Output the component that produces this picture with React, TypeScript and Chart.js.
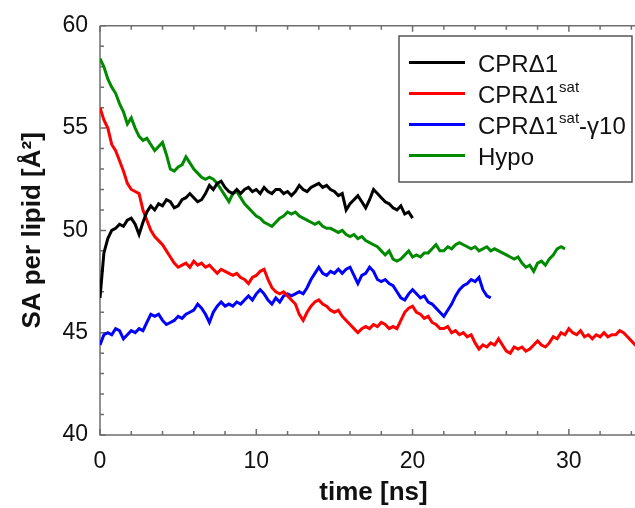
import { useEffect, useRef } from "react";
import { Chart, registerables } from "chart.js";

Chart.register(...registerables);

// sampling interval of the traces (ns)
const TIME_STEP = 0.25;

const seriesNames = ["CPRΔ1", "CPRΔ1sat", "CPRΔ1sat-γ10", "Hypo"];
const seriesColors = ["#000000", "#ff0000", "#0000ff", "#008a00"];

const xTickLabels = [0, 10, 20, 30];
const yTickLabels = [40, 45, 50, 55, 60];

// SA per lipid [Å²], one value every TIME_STEP ns starting at t = 0
const cprD1 = [
  46.7, 48.9, 49.6, 50.0, 50.1, 50.3, 50.2, 50.5,
  50.6, 50.3, 49.8, 50.4, 50.9, 51.2, 51.0, 51.3,
  51.2, 51.5, 51.4, 51.1, 51.2, 51.5, 51.6, 51.8,
  51.6, 51.4, 51.5, 51.8, 52.2, 52.0, 52.3, 52.4,
  52.1, 51.9, 51.8, 52.0, 51.8, 52.0, 52.1, 51.9,
  52.0, 51.8, 52.1, 51.9, 51.8, 52.0, 52.0, 51.8,
  51.9, 51.7, 51.9, 52.2, 52.0, 51.9, 52.1, 52.2,
  52.3, 52.1, 52.2, 52.0, 51.9, 51.7, 51.8, 51.0,
  51.3, 51.5, 51.7, 51.4, 51.1, 51.5, 52.0, 51.8,
  51.6, 51.4, 51.3, 51.1, 51.0, 51.2, 50.8, 50.9,
  50.6,
];

const cprD1sat = [
  56.0, 55.4, 55.0, 54.2, 53.9, 53.4, 52.9, 52.3,
  52.0, 51.9, 51.8, 51.0, 50.5, 50.0, 49.7, 49.5,
  49.3, 49.0, 48.7, 48.4, 48.2, 48.3, 48.4, 48.2,
  48.5, 48.3, 48.4, 48.2, 48.3, 48.1, 47.9, 48.1,
  48.0, 47.9, 47.8, 47.9, 47.7, 47.6, 47.4, 47.7,
  47.8, 48.0, 48.1, 47.6, 47.2, 47.0, 46.9, 47.0,
  46.8, 46.6, 46.4, 45.9, 45.6, 46.0, 46.3, 46.5,
  46.6, 46.4, 46.3, 46.1, 46.0, 46.1, 45.8, 45.6,
  45.4, 45.2, 45.0, 45.2, 45.3, 45.2, 45.4, 45.3,
  45.5, 45.4, 45.2, 45.3, 45.2, 45.6, 46.0, 46.2,
  46.3, 46.0, 45.9, 45.7, 45.8, 45.5, 45.4, 45.2,
  45.2, 45.3, 45.0, 45.1, 44.9, 45.0, 44.8, 44.9,
  44.5, 44.2, 44.4, 44.3, 44.5, 44.4, 44.7, 44.4,
  44.1, 44.0, 44.3, 44.2, 44.3, 44.1, 44.2, 44.4,
  44.6, 44.4, 44.3, 44.5, 44.8, 44.7, 45.0, 44.9,
  45.2, 45.0, 44.9, 45.1, 44.8, 44.9, 44.7, 44.9,
  44.8, 45.0, 44.8, 44.9, 44.9, 45.1, 45.0, 44.8,
  44.6, 44.4, 44.3, 44.2, 44.3,
];

const cprD1satG10 = [
  44.4, 44.9, 45.0, 44.9, 45.2, 45.1, 44.7, 44.9,
  45.1, 45.0, 45.2, 45.1, 45.5, 45.9, 45.8, 45.9,
  45.6, 45.4, 45.5, 45.6, 45.8, 45.7, 45.9, 46.0,
  46.1, 46.4, 46.2, 45.9, 45.5, 46.0, 46.3, 46.5,
  46.3, 46.4, 46.3, 46.5, 46.4, 46.6, 46.8, 46.6,
  46.9, 47.1, 46.9, 46.6, 46.4, 46.7, 46.5, 46.8,
  46.9, 46.8, 46.9, 47.0, 46.9, 47.2, 47.6, 47.9,
  48.2, 47.9, 47.8, 48.0, 47.9, 48.1, 47.9, 48.1,
  48.2, 47.8, 47.4, 47.8, 47.9, 48.2, 48.0, 47.6,
  47.5, 47.6, 47.4, 47.3, 47.0, 46.7, 46.6, 46.9,
  47.1, 46.9, 46.7, 46.8, 46.5, 46.4, 46.2, 46.0,
  45.8, 46.1, 46.4, 46.8, 47.1, 47.3, 47.4, 47.6,
  47.5, 47.7, 47.1, 46.8, 46.7,
];

const hypo = [
  58.4, 58.0, 57.4, 57.0, 56.7, 56.2, 55.8, 55.2,
  55.5, 55.0, 54.6, 54.4, 54.5, 54.2, 53.9, 54.1,
  54.3, 53.7, 53.0, 52.9, 53.1, 53.2, 53.6, 53.3,
  53.0, 52.8, 52.6, 52.5, 52.6, 52.5, 52.3, 52.0,
  51.7, 51.4, 51.8, 51.9, 51.6, 51.3, 51.1, 50.9,
  50.7, 50.6, 50.4, 50.3, 50.2, 50.4, 50.6, 50.7,
  50.9, 50.8, 50.9, 50.7, 50.6, 50.5, 50.4, 50.3,
  50.4, 50.2, 50.1, 50.1, 50.0, 49.9, 50.0, 49.8,
  49.7, 49.8, 49.6, 49.7, 49.5, 49.4, 49.3, 49.2,
  49.0, 48.8, 49.0, 48.6, 48.5, 48.6, 48.8, 49.0,
  48.7, 48.8, 48.7, 48.9, 48.9, 49.1, 49.3, 49.0,
  49.0, 49.2, 49.1, 49.3, 49.4, 49.3, 49.2, 49.1,
  49.2, 49.0, 49.1, 49.2, 49.0, 49.1, 49.0, 48.9,
  48.8, 48.7, 48.6, 48.7, 48.4, 48.2, 48.3, 48.0,
  48.4, 48.5, 48.3, 48.6, 48.8, 49.1, 49.2, 49.1,
];

const allSeries = [cprD1, cprD1sat, cprD1satG10, hypo];

const FONT = "'Liberation Sans', Arial, Helvetica, sans-serif";
const AXIS_COLOR = "#6f6f6f";

const toPoints = (vals: number[]) => vals.map((v, i) => ({ x: i * TIME_STEP, y: v }));

const framePlugin = {
  id: "frameTicks",
  beforeDatasetsDraw(chart: any) {
    const { ctx, chartArea, scales } = chart;
    const xs = scales.x;
    const ys = scales.y;
    ctx.save();
    ctx.strokeStyle = AXIS_COLOR;
    ctx.lineWidth = 1.5;
    ctx.beginPath();
    ctx.moveTo(chartArea.left, chartArea.top);
    ctx.lineTo(chartArea.right, chartArea.top);
    ctx.moveTo(chartArea.left, chartArea.top);
    ctx.lineTo(chartArea.left, chartArea.bottom);
    ctx.lineTo(chartArea.right, chartArea.bottom);
    ctx.stroke();
    ctx.beginPath();
    for (let v = xs.min; v <= xs.max + 1e-6; v += 2) {
      const px = xs.getPixelForValue(v);
      const len = v % 10 === 0 ? 6 : 4;
      ctx.moveTo(px, chartArea.bottom);
      ctx.lineTo(px, chartArea.bottom - len);
      ctx.moveTo(px, chartArea.top);
      ctx.lineTo(px, chartArea.top + len);
    }
    for (let v = ys.min; v <= ys.max + 1e-6; v += 1) {
      const py = ys.getPixelForValue(v);
      const len = v % 5 === 0 ? 6 : 4;
      ctx.moveTo(chartArea.left, py);
      ctx.lineTo(chartArea.left + len, py);
    }
    ctx.stroke();
    ctx.restore();
  },
};

const legendPlugin = {
  id: "supLegend",
  afterDraw(chart: any) {
    const { ctx } = chart;
    ctx.save();
    const bx = 399, by = 36, bw = 233, bh = 146;
    ctx.fillStyle = "#ffffff";
    ctx.fillRect(bx, by, bw, bh);
    ctx.strokeStyle = "#555555";
    ctx.lineWidth = 1.5;
    ctx.strokeRect(bx, by, bw, bh);
    const baselines = [72, 103, 134, 165];
    const mainFont = `24px ${FONT}`;
    const supFont = `15px ${FONT}`;
    seriesNames.forEach((name, i) => {
      const base = baselines[i];
      ctx.strokeStyle = seriesColors[i];
      ctx.lineWidth = 3;
      ctx.beginPath();
      ctx.moveTo(409, base - 9.5);
      ctx.lineTo(465, base - 9.5);
      ctx.stroke();
      ctx.fillStyle = "#111111";
      ctx.textBaseline = "alphabetic";
      ctx.textAlign = "left";
      const parts = name.split("sat");
      let x = 478;
      ctx.font = mainFont;
      ctx.fillText(parts[0], x, base);
      x += ctx.measureText(parts[0]).width;
      if (parts.length > 1) {
        ctx.font = supFont;
        ctx.fillText("sat", x + 1, base - 11);
        x += ctx.measureText("sat").width + 1;
        ctx.font = mainFont;
        ctx.fillText(parts[1], x, base);
      }
    });
    ctx.restore();
  },
};

export default function App() {
  const canvasRef = useRef<HTMLCanvasElement | null>(null);

  useEffect(() => {
    if (!canvasRef.current) return;
    const chart = new Chart(canvasRef.current, {
      type: "line",
      data: {
        datasets: allSeries.map((vals, i) => ({
          label: seriesNames[i],
          data: toPoints(vals),
          borderColor: seriesColors[i],
          backgroundColor: seriesColors[i],
          borderWidth: 3,
          pointRadius: 0,
          tension: 0,
          fill: false,
        })),
      },
      options: {
        animation: false,
        responsive: false,
        maintainAspectRatio: false,
        devicePixelRatio: 1,
        layout: { padding: { top: 22, right: 13, left: 0, bottom: 0 } },
        plugins: {
          legend: { display: false },
          tooltip: { enabled: false },
        },
        scales: {
          x: {
            type: "linear",
            min: 0,
            max: 35,
            afterFit: (s: any) => {
              s.height = 73;
            },
            grid: { display: false, drawTicks: false },
            border: { display: false },
            afterBuildTicks: (s: any) => {
              s.ticks = xTickLabels.map((v) => ({ value: v }));
            },
            ticks: {
              font: { family: FONT, size: 23 },
              color: "#111111",
              padding: 13,
              maxRotation: 0,
            },
            title: {
              display: true,
              text: "time [ns]",
              font: { family: FONT, size: 26, weight: "bold" },
              color: "#111111",
              padding: 0,
            },
          },
          y: {
            type: "linear",
            min: 40,
            max: 60,
            afterFit: (s: any) => {
              s.width = 100;
            },
            grid: { display: false, drawTicks: false },
            border: { display: false },
            afterBuildTicks: (s: any) => {
              s.ticks = yTickLabels.map((v) => ({ value: v }));
            },
            ticks: {
              font: { family: FONT, size: 23 },
              color: "#111111",
              padding: 12,
            },
            title: {
              display: true,
              text: "SA per lipid [Å²]",
              font: { family: FONT, size: 26, weight: "bold" },
              color: "#111111",
              padding: { top: 17, bottom: 0 },
            },
          },
        },
      },
      plugins: [framePlugin, legendPlugin],
    });
    return () => chart.destroy();
  }, []);

  return (
    <div
      style={{
        position: "fixed",
        left: 0,
        top: 0,
        width: 635,
        height: 508,
        overflow: "hidden",
        background: "#ffffff",
      }}
    >
      <canvas ref={canvasRef} width={660} height={508} style={{ display: "block" }} />
    </div>
  );
}
